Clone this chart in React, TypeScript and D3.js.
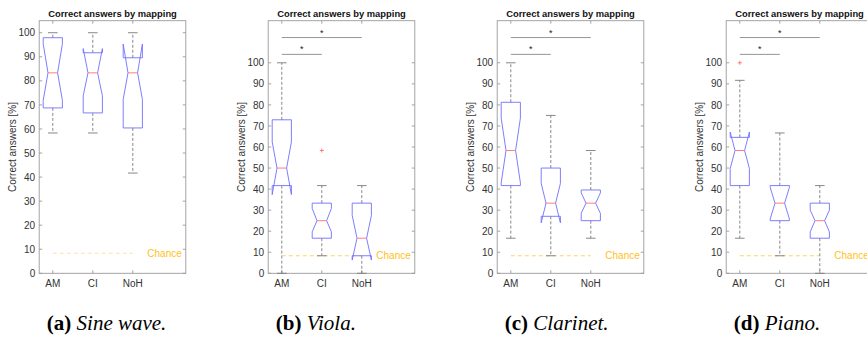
import React from 'react';
import * as d3 from 'd3';

// ---------- data ----------
const categories = ['AM', 'CI', 'NoH'];
const panelTitles = ['Correct answers by mapping', 'Correct answers by mapping', 'Correct answers by mapping', 'Correct answers by mapping'];
const captionTags = ['(a)', '(b)', '(c)', '(d)'];
const captionNames = ['Sine wave.', 'Viola.', 'Clarinet.', 'Piano.'];
const yMaxes = [105, 120, 120, 120];
const yTicks = [0, 10, 20, 30, 40, 50, 60, 70, 80, 90, 100];
const chanceLevel = 8.33;

// each row: [lowerWhisker, q1, notchLow, median, notchHigh, q3, upperWhisker]
const sineBoxes = [
  [58.33, 68.75, 71.9, 83.33, 95.4, 97.92, 100],
  [58.33, 66.67, 73.8, 83.33, 93.4, 91.67, 100],
  [41.67, 60.42, 72.3, 83.33, 95.3, 89.58, 100],
];
const violaBoxes = [
  [0, 41.67, 37.4, 50, 62.4, 72.92, 100],
  [8.33, 16.67, 19.7, 25, 30.8, 33.33, 41.67],
  [0, 8.33, 6.3, 16.67, 27.5, 33.33, 41.67],
];
const clarinetBoxes = [
  [16.67, 41.67, 43.0, 58.33, 73.7, 81.25, 100],
  [8.33, 27.08, 24.0, 33.33, 42.7, 50, 75],
  [16.67, 25, 28.5, 33.33, 38.2, 39.58, 58.33],
];
const pianoBoxes = [
  [16.67, 41.67, 49.8, 58.33, 67.1, 64.58, 91.67],
  [8.33, 25, 25.8, 33.33, 40.8, 41.67, 66.67],
  [0, 16.67, 19.7, 25, 30.0, 33.33, 41.67],
];
const allBoxes = [sineBoxes, violaBoxes, clarinetBoxes, pianoBoxes];

const sineOutliers = [[], [], []];
const violaOutliers = [[], [58.33], []];
const clarinetOutliers = [[], [], []];
const pianoOutliers = [[100], [], []];
const allOutliers = [sineOutliers, violaOutliers, clarinetOutliers, pianoOutliers];

// significance bars: pairs of category indexes and their heights
const sigPairs = [[0, 1], [0, 2]];
const sigHeights = [104, 112];
const sigPanels = [false, true, true, true];

// ---------- layout ----------
const W = 867;
const H = 344;
const axTop = 20.7;
const axBot = 273.3;
const firstLeft = 39.2;
const panelStep = 229;
const axWidth = 146.6;
const xDomain: [number, number] = [0.66, 4.325];
const boxW = 0.48;

const axisColor = '#9a9a9a';
const textColor = '#333333';
const boxColor = '#6f6fff';
const medColor = '#ff7070';
const whiskColor = '#7a7a7a';
const sans = 'Liberation Sans, Arial, Helvetica, sans-serif';

function Panel({ idx }: { idx: number }) {
  const left = firstLeft + idx * panelStep;
  const x = d3.scaleLinear().domain(xDomain).range([left, left + axWidth]);
  const y = d3.scaleLinear().domain([0, yMaxes[idx]]).range([axBot, axTop]);
  const hw = (x(boxW / 2) - x(0));
  const boxes = allBoxes[idx];
  const outs = allOutliers[idx];
  const line = d3.line<[number, number]>().x((d) => d[0]).y((d) => d[1]);
  const chanceColor = idx === 0 ? '#fbe2b0' : '#ffd46a';

  return (
    <g>
      {/* title */}
      <text x={(x.range()[0] + x.range()[1]) / 2} y={16.6} textAnchor="middle"
        fontFamily={sans} fontWeight="bold" fontSize={9.4} fill="#111">{panelTitles[idx]}</text>
      {/* axes box */}
      <rect x={left} y={axTop} width={axWidth} height={axBot - axTop} fill="none" stroke={axisColor} strokeWidth={0.9} />
      {/* y ticks */}
      {yTicks.map((t) => (
        <g key={t}>
          <line x1={left} x2={left + 3} y1={y(t)} y2={y(t)} stroke={axisColor} strokeWidth={0.9} />
          <line x1={left + axWidth - 3} x2={left + axWidth} y1={y(t)} y2={y(t)} stroke={axisColor} strokeWidth={0.9} />
          <text x={left - 4} y={y(t) + 3.6} textAnchor="end" fontFamily={sans} fontSize={10} fill={textColor}>{t}</text>
        </g>
      ))}
      {/* x ticks */}
      {categories.map((c, i) => (
        <g key={c}>
          <line x1={x(i + 1)} x2={x(i + 1)} y1={axBot} y2={axBot - 3} stroke={axisColor} strokeWidth={0.9} />
          <line x1={x(i + 1)} x2={x(i + 1)} y1={axTop} y2={axTop + 3} stroke={axisColor} strokeWidth={0.9} />
          <text x={x(i + 1)} y={287} textAnchor="middle" fontFamily={sans} fontSize={10} fill={textColor}>{c}</text>
        </g>
      ))}
      {/* y label */}
      <text transform={`translate(${left - 23.5},${(axTop + axBot) / 2}) rotate(-90)`} textAnchor="middle"
        fontFamily={sans} fontSize={10} fill={textColor}>Correct answers [%]</text>
      {/* chance line */}
      <line x1={x(1)} x2={x(3)} y1={y(chanceLevel)} y2={y(chanceLevel)} stroke={chanceColor} strokeWidth={1} strokeDasharray="4,3" />
      <text x={x(3) + 14.5} y={y(chanceLevel) + 3.6} fontFamily={sans} fontSize={10} fill="#ffbf1a">Chance</text>
      {/* boxes */}
      {boxes.map((b, i) => {
        const cx = x(i + 1);
        const [lo, q1, nlo, med, nhi, q3, hi] = b;
        const pts: [number, number][] = [
          [cx - hw, y(q1)], [cx - hw, y(nlo)], [cx - hw / 2, y(med)], [cx - hw, y(nhi)], [cx - hw, y(q3)],
          [cx + hw, y(q3)], [cx + hw, y(nhi)], [cx + hw / 2, y(med)], [cx + hw, y(nlo)], [cx + hw, y(q1)],
        ];
        return (
          <g key={i}>
            <line x1={cx} x2={cx} y1={y(q3)} y2={y(hi)} stroke={whiskColor} strokeWidth={0.9} strokeDasharray="3,2" />
            <line x1={cx} x2={cx} y1={y(q1)} y2={y(lo)} stroke={whiskColor} strokeWidth={0.9} strokeDasharray="3,2" />
            <line x1={cx - hw / 2} x2={cx + hw / 2} y1={y(hi)} y2={y(hi)} stroke={whiskColor} strokeWidth={0.9} />
            <line x1={cx - hw / 2} x2={cx + hw / 2} y1={y(lo)} y2={y(lo)} stroke={whiskColor} strokeWidth={0.9} />
            <path d={(line(pts) || '') + 'Z'} fill="none" stroke={boxColor} strokeWidth={0.9} />
            <line x1={cx - hw / 2} x2={cx + hw / 2} y1={y(med)} y2={y(med)} stroke={medColor} strokeWidth={0.9} />
            {outs[i].map((o, k) => (
              <g key={k} stroke="#ff6060" strokeWidth={0.8}>
                <line x1={cx - 2} x2={cx + 2} y1={y(o)} y2={y(o)} />
                <line x1={cx} x2={cx} y1={y(o) - 2} y2={y(o) + 2} />
              </g>
            ))}
          </g>
        );
      })}
      {/* significance */}
      {sigPanels[idx] && sigPairs.map((p, k) => (
        <g key={k}>
          <line x1={x(p[0] + 1)} x2={x(p[1] + 1)} y1={y(sigHeights[k])} y2={y(sigHeights[k])} stroke="#8a8a8a" strokeWidth={0.9} />
          <text x={(x(p[0] + 1) + x(p[1] + 1)) / 2} y={y(sigHeights[k]) - 2} textAnchor="middle"
            fontFamily={sans} fontSize={9} fill="#222">*</text>
        </g>
      ))}
      {/* caption */}
      <text x={x(1) - 6} y={330} textAnchor="start" fontFamily="Liberation Serif, Times New Roman, serif" fontSize={21} fill="#000">
        <tspan fontWeight="bold">{captionTags[idx]}</tspan>
        <tspan fontStyle="italic">{' ' + captionNames[idx]}</tspan>
      </text>
    </g>
  );
}

export default function App() {
  return (
    <svg width={W} height={H} style={{ position: 'absolute', left: 0, top: 0, background: '#fff' }}>
      <rect width={W} height={H} fill="#fff" />
      {captionTags.map((_, i) => <Panel key={i} idx={i} />)}
    </svg>
  );
}
